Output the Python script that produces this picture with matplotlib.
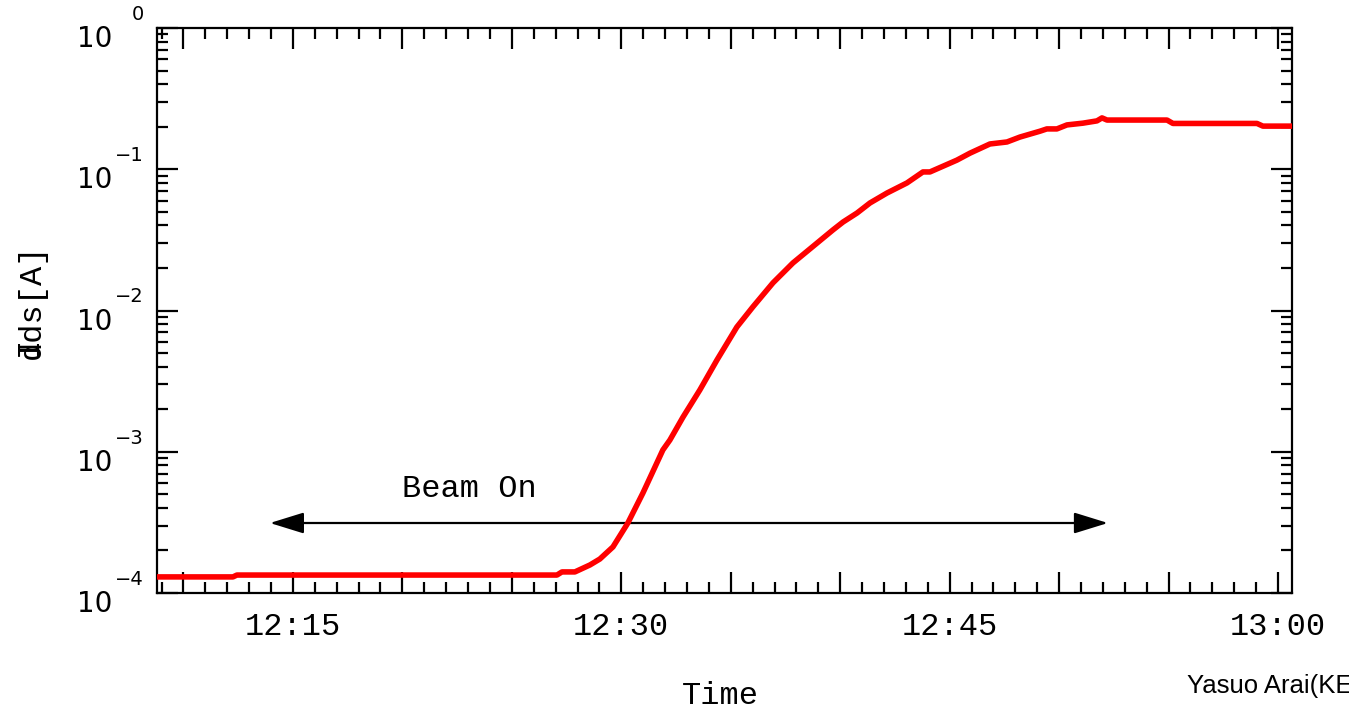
import matplotlib
matplotlib.use("Agg")
import matplotlib.pyplot as plt
import matplotlib.ticker as mticker
from matplotlib.patches import FancyArrowPatch
import numpy as np

# ---- data (time in minutes after 12:00, current in A) ----
t_min = [8.79, 12.26, 12.44, 27.06, 27.29, 27.88, 28.57, 29.02, 29.62, 30.30,
         30.99, 31.90, 32.22, 32.82, 33.59, 34.37, 35.28, 36.01, 36.93, 37.84,
         38.94, 39.67, 40.13, 40.77, 41.36, 42.14, 43.05, 43.78, 44.10, 45.33,
         45.93, 46.84, 47.62, 48.21, 49.13, 49.44, 49.90, 50.36, 51.09, 51.73,
         51.96, 52.19, 54.93, 55.20, 59.04, 59.31, 60.64]
ids = [1.30e-4, 1.30e-4, 1.34e-4, 1.34e-4, 1.41e-4, 1.41e-4, 1.58e-4, 1.74e-4, 2.12e-4, 3.13e-4,
       5.11e-4, 1.03e-3, 1.21e-3, 1.76e-3, 2.74e-3, 4.46e-3, 7.64e-3, 1.06e-2, 1.57e-2, 2.17e-2,
       3.00e-2, 3.72e-2, 4.23e-2, 4.90e-2, 5.77e-2, 6.79e-2, 8.00e-2, 9.57e-2, 9.57e-2, 0.116,
       0.130, 0.151, 0.156, 0.169, 0.186, 0.193, 0.193, 0.206, 0.212, 0.220,
       0.231, 0.223, 0.223, 0.211, 0.211, 0.202, 0.202]

xtick_pos = [15, 30, 45, 60]
xtick_labels = ["12:15", "12:30", "12:45", "13:00"]
decades = [-4, -3, -2, -1, 0]

beam_start, beam_end, beam_level = 13.95, 52.23, 3.13e-4
beam_text_x, beam_text_y = 23.04, 5.45e-4

MONO = "Liberation Mono"

fig = plt.figure(figsize=(13.49, 7.10), dpi=100)
W, H = 1349, 710
ax = fig.add_axes([157 / W, 1 - 593 / H, 1135 / W, 565 / H])

ax.plot(t_min, ids, color="#ff0000", lw=4.0, solid_joinstyle="round", zorder=3)

ax.set_yscale("log")
ax.set_xlim(8.79, 60.64)
ax.set_ylim(1e-4, 1e0)

# ticks
ax.xaxis.set_major_locator(mticker.MultipleLocator(5))
ax.xaxis.set_minor_locator(mticker.MultipleLocator(1))
lab_map = dict(zip(xtick_pos, xtick_labels))
ax.xaxis.set_major_formatter(mticker.FuncFormatter(
    lambda v, p: lab_map.get(int(round(v)), "") if abs(v - round(v)) < 1e-6 else ""))
ax.yaxis.set_major_locator(mticker.LogLocator(base=10, numticks=10))
ax.yaxis.set_minor_locator(mticker.LogLocator(base=10, subs=np.arange(2, 10), numticks=10))
ax.yaxis.set_major_formatter(mticker.NullFormatter())
ax.yaxis.set_minor_formatter(mticker.NullFormatter())

ax.tick_params(which="both", direction="in", top=True, right=True, width=1.6, color="black")
ax.tick_params(which="major", length=15)
ax.tick_params(which="minor", length=8)
ax.tick_params(axis="x", which="major", pad=14, labelsize=23)
for lab in ax.get_xticklabels():
    lab.set_family(MONO)

for s in ax.spines.values():
    s.set_linewidth(1.6)

# y tick labels: "10" with detached exponent
for d in decades:
    ax.annotate("10", xy=(0, 10.0 ** d), xycoords=("axes fraction", "data"),
                xytext=(-45, 3), textcoords="offset pixels",
                ha="right", va="top", fontsize=20, family="DejaVu Sans")
    ax.annotate("\u2212%d" % (-d) if d < 0 else "0", xy=(0, 10.0 ** d),
                xycoords=("axes fraction", "data"),
                xytext=(-13, 4), textcoords="offset pixels",
                ha="right", va="bottom", fontsize=14, family="DejaVu Sans")

# Beam On arrow
arr = FancyArrowPatch((beam_start, beam_level), (beam_end, beam_level),
                      arrowstyle="<|-|>,head_length=21,head_width=6.5",
                      mutation_scale=1, shrinkA=0, shrinkB=0,
                      color="black", lw=1.6, zorder=2)
ax.add_patch(arr)
ax.text(beam_text_x, beam_text_y, "Beam On", family=MONO, fontsize=23,
        ha="center", va="center")

# axis labels
fig.text(720 / W, 1 - 696 / H, "Time", family=MONO, fontsize=23, ha="center", va="center")
fig.text(32 / W, 1 - 301 / H, "dds[A]", family=MONO, fontsize=23, rotation=90,
         ha="center", va="center")
fig.text(32 / W, 1 - 301 / H, "I     ", family=MONO, fontsize=23, rotation=90,
         ha="center", va="center")

fig.text(1187 / W, 1 - 686 / H, "Yasuo Arai(KEK)", family="Liberation Sans",
         fontsize=18.5, ha="left", va="center")

fig.savefig("out.png", dpi=100)
